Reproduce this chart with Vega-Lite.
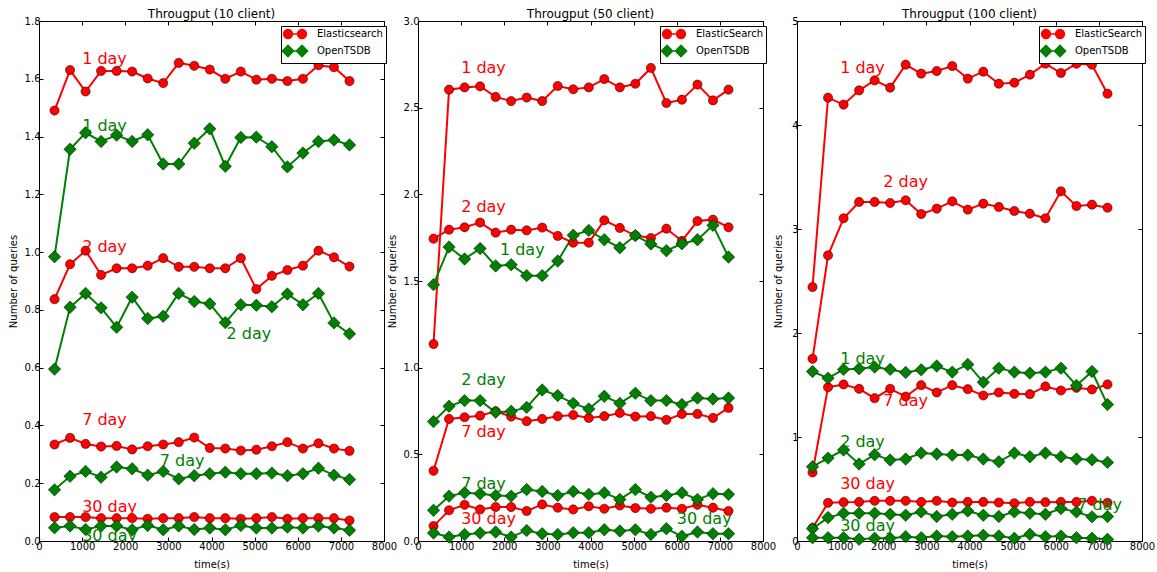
{
"$schema": "https://vega.github.io/schema/vega-lite/v6.json",
"background": "white",
"padding": {"left": 7, "top": 7, "right": 5, "bottom": 5},
"config": {
 "font": "DejaVu Sans",
 "view": {"stroke": "#000", "strokeWidth": 1},
 "axis": {"grid": false, "domainColor": "#000", "tickColor": "#000", "labelColor": "#000", "titleColor": "#000", "labelFontSize": 10, "titleFontSize": 10, "titleFontWeight": "normal", "domainWidth": 1, "tickWidth": 1, "minExtent": 0},
 "title": {"fontSize": 12, "fontWeight": "normal", "color": "#000", "offset": -5, "frame": "group"},
 "legend": {"orient": "none", "legendX": 242, "legendY": 5, "direction": "vertical", "fillColor": "#fff", "strokeColor": "#000", "padding": 3, "labelFontSize": 10, "labelColor": "#000", "symbolSize": 64, "symbolOffset": 6, "labelOffset": 17, "rowPadding": 0, "cornerRadius": 0, "symbolStrokeWidth": 1.5}
},
"datasets": {
"pts": [
{"p":10,"db":"Elasticsearch","s":"1 day","t":360,"v":1.490},{"p":10,"db":"Elasticsearch","s":"1 day","t":720,"v":1.630},{"p":10,"db":"Elasticsearch","s":"1 day","t":1080,"v":1.556},{"p":10,"db":"Elasticsearch","s":"1 day","t":1440,"v":1.627},{"p":10,"db":"Elasticsearch","s":"1 day","t":1800,"v":1.627},{"p":10,"db":"Elasticsearch","s":"1 day","t":2160,"v":1.625},{"p":10,"db":"Elasticsearch","s":"1 day","t":2520,"v":1.601},{"p":10,"db":"Elasticsearch","s":"1 day","t":2880,"v":1.585},{"p":10,"db":"Elasticsearch","s":"1 day","t":3240,"v":1.655},{"p":10,"db":"Elasticsearch","s":"1 day","t":3600,"v":1.645},{"p":10,"db":"Elasticsearch","s":"1 day","t":3960,"v":1.632},{"p":10,"db":"Elasticsearch","s":"1 day","t":4320,"v":1.600},{"p":10,"db":"Elasticsearch","s":"1 day","t":4680,"v":1.625},{"p":10,"db":"Elasticsearch","s":"1 day","t":5040,"v":1.597},{"p":10,"db":"Elasticsearch","s":"1 day","t":5400,"v":1.600},{"p":10,"db":"Elasticsearch","s":"1 day","t":5760,"v":1.592},{"p":10,"db":"Elasticsearch","s":"1 day","t":6120,"v":1.600},{"p":10,"db":"Elasticsearch","s":"1 day","t":6480,"v":1.647},{"p":10,"db":"Elasticsearch","s":"1 day","t":6840,"v":1.640},{"p":10,"db":"Elasticsearch","s":"1 day","t":7200,"v":1.592},
{"p":10,"db":"Elasticsearch","s":"2 day","t":360,"v":0.837},{"p":10,"db":"Elasticsearch","s":"2 day","t":720,"v":0.958},{"p":10,"db":"Elasticsearch","s":"2 day","t":1080,"v":1.005},{"p":10,"db":"Elasticsearch","s":"2 day","t":1440,"v":0.921},{"p":10,"db":"Elasticsearch","s":"2 day","t":1800,"v":0.944},{"p":10,"db":"Elasticsearch","s":"2 day","t":2160,"v":0.944},{"p":10,"db":"Elasticsearch","s":"2 day","t":2520,"v":0.953},{"p":10,"db":"Elasticsearch","s":"2 day","t":2880,"v":0.979},{"p":10,"db":"Elasticsearch","s":"2 day","t":3240,"v":0.949},{"p":10,"db":"Elasticsearch","s":"2 day","t":3600,"v":0.949},{"p":10,"db":"Elasticsearch","s":"2 day","t":3960,"v":0.944},{"p":10,"db":"Elasticsearch","s":"2 day","t":4320,"v":0.944},{"p":10,"db":"Elasticsearch","s":"2 day","t":4680,"v":0.979},{"p":10,"db":"Elasticsearch","s":"2 day","t":5040,"v":0.872},{"p":10,"db":"Elasticsearch","s":"2 day","t":5400,"v":0.918},{"p":10,"db":"Elasticsearch","s":"2 day","t":5760,"v":0.938},{"p":10,"db":"Elasticsearch","s":"2 day","t":6120,"v":0.953},{"p":10,"db":"Elasticsearch","s":"2 day","t":6480,"v":1.005},{"p":10,"db":"Elasticsearch","s":"2 day","t":6840,"v":0.982},{"p":10,"db":"Elasticsearch","s":"2 day","t":7200,"v":0.950},
{"p":10,"db":"Elasticsearch","s":"7 day","t":360,"v":0.334},{"p":10,"db":"Elasticsearch","s":"7 day","t":720,"v":0.357},{"p":10,"db":"Elasticsearch","s":"7 day","t":1080,"v":0.336},{"p":10,"db":"Elasticsearch","s":"7 day","t":1440,"v":0.327},{"p":10,"db":"Elasticsearch","s":"7 day","t":1800,"v":0.329},{"p":10,"db":"Elasticsearch","s":"7 day","t":2160,"v":0.317},{"p":10,"db":"Elasticsearch","s":"7 day","t":2520,"v":0.328},{"p":10,"db":"Elasticsearch","s":"7 day","t":2880,"v":0.334},{"p":10,"db":"Elasticsearch","s":"7 day","t":3240,"v":0.342},{"p":10,"db":"Elasticsearch","s":"7 day","t":3600,"v":0.358},{"p":10,"db":"Elasticsearch","s":"7 day","t":3960,"v":0.322},{"p":10,"db":"Elasticsearch","s":"7 day","t":4320,"v":0.320},{"p":10,"db":"Elasticsearch","s":"7 day","t":4680,"v":0.313},{"p":10,"db":"Elasticsearch","s":"7 day","t":5040,"v":0.316},{"p":10,"db":"Elasticsearch","s":"7 day","t":5400,"v":0.328},{"p":10,"db":"Elasticsearch","s":"7 day","t":5760,"v":0.342},{"p":10,"db":"Elasticsearch","s":"7 day","t":6120,"v":0.320},{"p":10,"db":"Elasticsearch","s":"7 day","t":6480,"v":0.338},{"p":10,"db":"Elasticsearch","s":"7 day","t":6840,"v":0.320},{"p":10,"db":"Elasticsearch","s":"7 day","t":7200,"v":0.312},
{"p":10,"db":"Elasticsearch","s":"30 day","t":360,"v":0.083},{"p":10,"db":"Elasticsearch","s":"30 day","t":720,"v":0.083},{"p":10,"db":"Elasticsearch","s":"30 day","t":1080,"v":0.083},{"p":10,"db":"Elasticsearch","s":"30 day","t":1440,"v":0.079},{"p":10,"db":"Elasticsearch","s":"30 day","t":1800,"v":0.079},{"p":10,"db":"Elasticsearch","s":"30 day","t":2160,"v":0.079},{"p":10,"db":"Elasticsearch","s":"30 day","t":2520,"v":0.077},{"p":10,"db":"Elasticsearch","s":"30 day","t":2880,"v":0.079},{"p":10,"db":"Elasticsearch","s":"30 day","t":3240,"v":0.079},{"p":10,"db":"Elasticsearch","s":"30 day","t":3600,"v":0.083},{"p":10,"db":"Elasticsearch","s":"30 day","t":3960,"v":0.079},{"p":10,"db":"Elasticsearch","s":"30 day","t":4320,"v":0.079},{"p":10,"db":"Elasticsearch","s":"30 day","t":4680,"v":0.077},{"p":10,"db":"Elasticsearch","s":"30 day","t":5040,"v":0.079},{"p":10,"db":"Elasticsearch","s":"30 day","t":5400,"v":0.083},{"p":10,"db":"Elasticsearch","s":"30 day","t":5760,"v":0.077},{"p":10,"db":"Elasticsearch","s":"30 day","t":6120,"v":0.079},{"p":10,"db":"Elasticsearch","s":"30 day","t":6480,"v":0.079},{"p":10,"db":"Elasticsearch","s":"30 day","t":6840,"v":0.079},{"p":10,"db":"Elasticsearch","s":"30 day","t":7200,"v":0.071},
{"p":10,"db":"OpenTSDB","s":"1 day","t":360,"v":0.984},{"p":10,"db":"OpenTSDB","s":"1 day","t":720,"v":1.356},{"p":10,"db":"OpenTSDB","s":"1 day","t":1080,"v":1.413},{"p":10,"db":"OpenTSDB","s":"1 day","t":1440,"v":1.383},{"p":10,"db":"OpenTSDB","s":"1 day","t":1800,"v":1.405},{"p":10,"db":"OpenTSDB","s":"1 day","t":2160,"v":1.383},{"p":10,"db":"OpenTSDB","s":"1 day","t":2520,"v":1.406},{"p":10,"db":"OpenTSDB","s":"1 day","t":2880,"v":1.305},{"p":10,"db":"OpenTSDB","s":"1 day","t":3240,"v":1.305},{"p":10,"db":"OpenTSDB","s":"1 day","t":3600,"v":1.377},{"p":10,"db":"OpenTSDB","s":"1 day","t":3960,"v":1.427},{"p":10,"db":"OpenTSDB","s":"1 day","t":4320,"v":1.297},{"p":10,"db":"OpenTSDB","s":"1 day","t":4680,"v":1.397},{"p":10,"db":"OpenTSDB","s":"1 day","t":5040,"v":1.398},{"p":10,"db":"OpenTSDB","s":"1 day","t":5400,"v":1.365},{"p":10,"db":"OpenTSDB","s":"1 day","t":5760,"v":1.295},{"p":10,"db":"OpenTSDB","s":"1 day","t":6120,"v":1.343},{"p":10,"db":"OpenTSDB","s":"1 day","t":6480,"v":1.383},{"p":10,"db":"OpenTSDB","s":"1 day","t":6840,"v":1.388},{"p":10,"db":"OpenTSDB","s":"1 day","t":7200,"v":1.371},
{"p":10,"db":"OpenTSDB","s":"2 day","t":360,"v":0.595},{"p":10,"db":"OpenTSDB","s":"2 day","t":720,"v":0.809},{"p":10,"db":"OpenTSDB","s":"2 day","t":1080,"v":0.857},{"p":10,"db":"OpenTSDB","s":"2 day","t":1440,"v":0.807},{"p":10,"db":"OpenTSDB","s":"2 day","t":1800,"v":0.740},{"p":10,"db":"OpenTSDB","s":"2 day","t":2160,"v":0.844},{"p":10,"db":"OpenTSDB","s":"2 day","t":2520,"v":0.770},{"p":10,"db":"OpenTSDB","s":"2 day","t":2880,"v":0.778},{"p":10,"db":"OpenTSDB","s":"2 day","t":3240,"v":0.857},{"p":10,"db":"OpenTSDB","s":"2 day","t":3600,"v":0.829},{"p":10,"db":"OpenTSDB","s":"2 day","t":3960,"v":0.821},{"p":10,"db":"OpenTSDB","s":"2 day","t":4320,"v":0.756},{"p":10,"db":"OpenTSDB","s":"2 day","t":4680,"v":0.818},{"p":10,"db":"OpenTSDB","s":"2 day","t":5040,"v":0.816},{"p":10,"db":"OpenTSDB","s":"2 day","t":5400,"v":0.811},{"p":10,"db":"OpenTSDB","s":"2 day","t":5760,"v":0.855},{"p":10,"db":"OpenTSDB","s":"2 day","t":6120,"v":0.818},{"p":10,"db":"OpenTSDB","s":"2 day","t":6480,"v":0.857},{"p":10,"db":"OpenTSDB","s":"2 day","t":6840,"v":0.755},{"p":10,"db":"OpenTSDB","s":"2 day","t":7200,"v":0.717},
{"p":10,"db":"OpenTSDB","s":"7 day","t":360,"v":0.177},{"p":10,"db":"OpenTSDB","s":"7 day","t":720,"v":0.224},{"p":10,"db":"OpenTSDB","s":"7 day","t":1080,"v":0.241},{"p":10,"db":"OpenTSDB","s":"7 day","t":1440,"v":0.221},{"p":10,"db":"OpenTSDB","s":"7 day","t":1800,"v":0.256},{"p":10,"db":"OpenTSDB","s":"7 day","t":2160,"v":0.250},{"p":10,"db":"OpenTSDB","s":"7 day","t":2520,"v":0.228},{"p":10,"db":"OpenTSDB","s":"7 day","t":2880,"v":0.241},{"p":10,"db":"OpenTSDB","s":"7 day","t":3240,"v":0.215},{"p":10,"db":"OpenTSDB","s":"7 day","t":3600,"v":0.226},{"p":10,"db":"OpenTSDB","s":"7 day","t":3960,"v":0.233},{"p":10,"db":"OpenTSDB","s":"7 day","t":4320,"v":0.238},{"p":10,"db":"OpenTSDB","s":"7 day","t":4680,"v":0.233},{"p":10,"db":"OpenTSDB","s":"7 day","t":5040,"v":0.233},{"p":10,"db":"OpenTSDB","s":"7 day","t":5400,"v":0.235},{"p":10,"db":"OpenTSDB","s":"7 day","t":5760,"v":0.226},{"p":10,"db":"OpenTSDB","s":"7 day","t":6120,"v":0.233},{"p":10,"db":"OpenTSDB","s":"7 day","t":6480,"v":0.252},{"p":10,"db":"OpenTSDB","s":"7 day","t":6840,"v":0.228},{"p":10,"db":"OpenTSDB","s":"7 day","t":7200,"v":0.213},
{"p":10,"db":"OpenTSDB","s":"30 day","t":360,"v":0.046},{"p":10,"db":"OpenTSDB","s":"30 day","t":720,"v":0.052},{"p":10,"db":"OpenTSDB","s":"30 day","t":1080,"v":0.040},{"p":10,"db":"OpenTSDB","s":"30 day","t":1440,"v":0.052},{"p":10,"db":"OpenTSDB","s":"30 day","t":1800,"v":0.052},{"p":10,"db":"OpenTSDB","s":"30 day","t":2160,"v":0.039},{"p":10,"db":"OpenTSDB","s":"30 day","t":2520,"v":0.054},{"p":10,"db":"OpenTSDB","s":"30 day","t":2880,"v":0.039},{"p":10,"db":"OpenTSDB","s":"30 day","t":3240,"v":0.052},{"p":10,"db":"OpenTSDB","s":"30 day","t":3600,"v":0.040},{"p":10,"db":"OpenTSDB","s":"30 day","t":3960,"v":0.045},{"p":10,"db":"OpenTSDB","s":"30 day","t":4320,"v":0.039},{"p":10,"db":"OpenTSDB","s":"30 day","t":4680,"v":0.054},{"p":10,"db":"OpenTSDB","s":"30 day","t":5040,"v":0.045},{"p":10,"db":"OpenTSDB","s":"30 day","t":5400,"v":0.045},{"p":10,"db":"OpenTSDB","s":"30 day","t":5760,"v":0.048},{"p":10,"db":"OpenTSDB","s":"30 day","t":6120,"v":0.045},{"p":10,"db":"OpenTSDB","s":"30 day","t":6480,"v":0.052},{"p":10,"db":"OpenTSDB","s":"30 day","t":6840,"v":0.045},{"p":10,"db":"OpenTSDB","s":"30 day","t":7200,"v":0.037},
{"p":50,"db":"ElasticSearch","s":"1 day","t":360,"v":1.136},{"p":50,"db":"ElasticSearch","s":"1 day","t":720,"v":2.604},{"p":50,"db":"ElasticSearch","s":"1 day","t":1080,"v":2.617},{"p":50,"db":"ElasticSearch","s":"1 day","t":1440,"v":2.623},{"p":50,"db":"ElasticSearch","s":"1 day","t":1800,"v":2.562},{"p":50,"db":"ElasticSearch","s":"1 day","t":2160,"v":2.538},{"p":50,"db":"ElasticSearch","s":"1 day","t":2520,"v":2.558},{"p":50,"db":"ElasticSearch","s":"1 day","t":2880,"v":2.538},{"p":50,"db":"ElasticSearch","s":"1 day","t":3240,"v":2.625},{"p":50,"db":"ElasticSearch","s":"1 day","t":3600,"v":2.606},{"p":50,"db":"ElasticSearch","s":"1 day","t":3960,"v":2.617},{"p":50,"db":"ElasticSearch","s":"1 day","t":4320,"v":2.665},{"p":50,"db":"ElasticSearch","s":"1 day","t":4680,"v":2.617},{"p":50,"db":"ElasticSearch","s":"1 day","t":5040,"v":2.638},{"p":50,"db":"ElasticSearch","s":"1 day","t":5400,"v":2.729},{"p":50,"db":"ElasticSearch","s":"1 day","t":5760,"v":2.527},{"p":50,"db":"ElasticSearch","s":"1 day","t":6120,"v":2.546},{"p":50,"db":"ElasticSearch","s":"1 day","t":6480,"v":2.633},{"p":50,"db":"ElasticSearch","s":"1 day","t":6840,"v":2.542},{"p":50,"db":"ElasticSearch","s":"1 day","t":7200,"v":2.604},
{"p":50,"db":"ElasticSearch","s":"2 day","t":360,"v":1.744},{"p":50,"db":"ElasticSearch","s":"2 day","t":720,"v":1.796},{"p":50,"db":"ElasticSearch","s":"2 day","t":1080,"v":1.810},{"p":50,"db":"ElasticSearch","s":"2 day","t":1440,"v":1.837},{"p":50,"db":"ElasticSearch","s":"2 day","t":1800,"v":1.779},{"p":50,"db":"ElasticSearch","s":"2 day","t":2160,"v":1.796},{"p":50,"db":"ElasticSearch","s":"2 day","t":2520,"v":1.792},{"p":50,"db":"ElasticSearch","s":"2 day","t":2880,"v":1.808},{"p":50,"db":"ElasticSearch","s":"2 day","t":3240,"v":1.760},{"p":50,"db":"ElasticSearch","s":"2 day","t":3600,"v":1.721},{"p":50,"db":"ElasticSearch","s":"2 day","t":3960,"v":1.721},{"p":50,"db":"ElasticSearch","s":"2 day","t":4320,"v":1.850},{"p":50,"db":"ElasticSearch","s":"2 day","t":4680,"v":1.806},{"p":50,"db":"ElasticSearch","s":"2 day","t":5040,"v":1.762},{"p":50,"db":"ElasticSearch","s":"2 day","t":5400,"v":1.748},{"p":50,"db":"ElasticSearch","s":"2 day","t":5760,"v":1.802},{"p":50,"db":"ElasticSearch","s":"2 day","t":6120,"v":1.731},{"p":50,"db":"ElasticSearch","s":"2 day","t":6480,"v":1.846},{"p":50,"db":"ElasticSearch","s":"2 day","t":6840,"v":1.854},{"p":50,"db":"ElasticSearch","s":"2 day","t":7200,"v":1.810},
{"p":50,"db":"ElasticSearch","s":"7 day","t":360,"v":0.405},{"p":50,"db":"ElasticSearch","s":"7 day","t":720,"v":0.704},{"p":50,"db":"ElasticSearch","s":"7 day","t":1080,"v":0.714},{"p":50,"db":"ElasticSearch","s":"7 day","t":1440,"v":0.723},{"p":50,"db":"ElasticSearch","s":"7 day","t":1800,"v":0.748},{"p":50,"db":"ElasticSearch","s":"7 day","t":2160,"v":0.718},{"p":50,"db":"ElasticSearch","s":"7 day","t":2520,"v":0.691},{"p":50,"db":"ElasticSearch","s":"7 day","t":2880,"v":0.704},{"p":50,"db":"ElasticSearch","s":"7 day","t":3240,"v":0.720},{"p":50,"db":"ElasticSearch","s":"7 day","t":3600,"v":0.727},{"p":50,"db":"ElasticSearch","s":"7 day","t":3960,"v":0.710},{"p":50,"db":"ElasticSearch","s":"7 day","t":4320,"v":0.720},{"p":50,"db":"ElasticSearch","s":"7 day","t":4680,"v":0.739},{"p":50,"db":"ElasticSearch","s":"7 day","t":5040,"v":0.718},{"p":50,"db":"ElasticSearch","s":"7 day","t":5400,"v":0.720},{"p":50,"db":"ElasticSearch","s":"7 day","t":5760,"v":0.699},{"p":50,"db":"ElasticSearch","s":"7 day","t":6120,"v":0.733},{"p":50,"db":"ElasticSearch","s":"7 day","t":6480,"v":0.733},{"p":50,"db":"ElasticSearch","s":"7 day","t":6840,"v":0.710},{"p":50,"db":"ElasticSearch","s":"7 day","t":7200,"v":0.768},
{"p":50,"db":"ElasticSearch","s":"30 day","t":360,"v":0.086},{"p":50,"db":"ElasticSearch","s":"30 day","t":720,"v":0.177},{"p":50,"db":"ElasticSearch","s":"30 day","t":1080,"v":0.209},{"p":50,"db":"ElasticSearch","s":"30 day","t":1440,"v":0.182},{"p":50,"db":"ElasticSearch","s":"30 day","t":1800,"v":0.196},{"p":50,"db":"ElasticSearch","s":"30 day","t":2160,"v":0.196},{"p":50,"db":"ElasticSearch","s":"30 day","t":2520,"v":0.173},{"p":50,"db":"ElasticSearch","s":"30 day","t":2880,"v":0.211},{"p":50,"db":"ElasticSearch","s":"30 day","t":3240,"v":0.192},{"p":50,"db":"ElasticSearch","s":"30 day","t":3600,"v":0.182},{"p":50,"db":"ElasticSearch","s":"30 day","t":3960,"v":0.200},{"p":50,"db":"ElasticSearch","s":"30 day","t":4320,"v":0.186},{"p":50,"db":"ElasticSearch","s":"30 day","t":4680,"v":0.205},{"p":50,"db":"ElasticSearch","s":"30 day","t":5040,"v":0.190},{"p":50,"db":"ElasticSearch","s":"30 day","t":5400,"v":0.186},{"p":50,"db":"ElasticSearch","s":"30 day","t":5760,"v":0.192},{"p":50,"db":"ElasticSearch","s":"30 day","t":6120,"v":0.186},{"p":50,"db":"ElasticSearch","s":"30 day","t":6480,"v":0.209},{"p":50,"db":"ElasticSearch","s":"30 day","t":6840,"v":0.192},{"p":50,"db":"ElasticSearch","s":"30 day","t":7200,"v":0.173},
{"p":50,"db":"OpenTSDB","s":"1 day","t":360,"v":1.479},{"p":50,"db":"OpenTSDB","s":"1 day","t":720,"v":1.696},{"p":50,"db":"OpenTSDB","s":"1 day","t":1080,"v":1.627},{"p":50,"db":"OpenTSDB","s":"1 day","t":1440,"v":1.687},{"p":50,"db":"OpenTSDB","s":"1 day","t":1800,"v":1.587},{"p":50,"db":"OpenTSDB","s":"1 day","t":2160,"v":1.594},{"p":50,"db":"OpenTSDB","s":"1 day","t":2520,"v":1.531},{"p":50,"db":"OpenTSDB","s":"1 day","t":2880,"v":1.531},{"p":50,"db":"OpenTSDB","s":"1 day","t":3240,"v":1.615},{"p":50,"db":"OpenTSDB","s":"1 day","t":3600,"v":1.764},{"p":50,"db":"OpenTSDB","s":"1 day","t":3960,"v":1.792},{"p":50,"db":"OpenTSDB","s":"1 day","t":4320,"v":1.738},{"p":50,"db":"OpenTSDB","s":"1 day","t":4680,"v":1.692},{"p":50,"db":"OpenTSDB","s":"1 day","t":5040,"v":1.762},{"p":50,"db":"OpenTSDB","s":"1 day","t":5400,"v":1.714},{"p":50,"db":"OpenTSDB","s":"1 day","t":5760,"v":1.675},{"p":50,"db":"OpenTSDB","s":"1 day","t":6120,"v":1.715},{"p":50,"db":"OpenTSDB","s":"1 day","t":6480,"v":1.738},{"p":50,"db":"OpenTSDB","s":"1 day","t":6840,"v":1.821},{"p":50,"db":"OpenTSDB","s":"1 day","t":7200,"v":1.638},
{"p":50,"db":"OpenTSDB","s":"2 day","t":360,"v":0.689},{"p":50,"db":"OpenTSDB","s":"2 day","t":720,"v":0.777},{"p":50,"db":"OpenTSDB","s":"2 day","t":1080,"v":0.810},{"p":50,"db":"OpenTSDB","s":"2 day","t":1440,"v":0.810},{"p":50,"db":"OpenTSDB","s":"2 day","t":1800,"v":0.743},{"p":50,"db":"OpenTSDB","s":"2 day","t":2160,"v":0.748},{"p":50,"db":"OpenTSDB","s":"2 day","t":2520,"v":0.771},{"p":50,"db":"OpenTSDB","s":"2 day","t":2880,"v":0.871},{"p":50,"db":"OpenTSDB","s":"2 day","t":3240,"v":0.839},{"p":50,"db":"OpenTSDB","s":"2 day","t":3600,"v":0.794},{"p":50,"db":"OpenTSDB","s":"2 day","t":3960,"v":0.762},{"p":50,"db":"OpenTSDB","s":"2 day","t":4320,"v":0.835},{"p":50,"db":"OpenTSDB","s":"2 day","t":4680,"v":0.794},{"p":50,"db":"OpenTSDB","s":"2 day","t":5040,"v":0.852},{"p":50,"db":"OpenTSDB","s":"2 day","t":5400,"v":0.810},{"p":50,"db":"OpenTSDB","s":"2 day","t":5760,"v":0.810},{"p":50,"db":"OpenTSDB","s":"2 day","t":6120,"v":0.787},{"p":50,"db":"OpenTSDB","s":"2 day","t":6480,"v":0.825},{"p":50,"db":"OpenTSDB","s":"2 day","t":6840,"v":0.819},{"p":50,"db":"OpenTSDB","s":"2 day","t":7200,"v":0.825},
{"p":50,"db":"OpenTSDB","s":"7 day","t":360,"v":0.177},{"p":50,"db":"OpenTSDB","s":"7 day","t":720,"v":0.259},{"p":50,"db":"OpenTSDB","s":"7 day","t":1080,"v":0.278},{"p":50,"db":"OpenTSDB","s":"7 day","t":1440,"v":0.273},{"p":50,"db":"OpenTSDB","s":"7 day","t":1800,"v":0.263},{"p":50,"db":"OpenTSDB","s":"7 day","t":2160,"v":0.259},{"p":50,"db":"OpenTSDB","s":"7 day","t":2520,"v":0.297},{"p":50,"db":"OpenTSDB","s":"7 day","t":2880,"v":0.286},{"p":50,"db":"OpenTSDB","s":"7 day","t":3240,"v":0.263},{"p":50,"db":"OpenTSDB","s":"7 day","t":3600,"v":0.286},{"p":50,"db":"OpenTSDB","s":"7 day","t":3960,"v":0.269},{"p":50,"db":"OpenTSDB","s":"7 day","t":4320,"v":0.278},{"p":50,"db":"OpenTSDB","s":"7 day","t":4680,"v":0.240},{"p":50,"db":"OpenTSDB","s":"7 day","t":5040,"v":0.297},{"p":50,"db":"OpenTSDB","s":"7 day","t":5400,"v":0.253},{"p":50,"db":"OpenTSDB","s":"7 day","t":5760,"v":0.263},{"p":50,"db":"OpenTSDB","s":"7 day","t":6120,"v":0.278},{"p":50,"db":"OpenTSDB","s":"7 day","t":6480,"v":0.240},{"p":50,"db":"OpenTSDB","s":"7 day","t":6840,"v":0.273},{"p":50,"db":"OpenTSDB","s":"7 day","t":7200,"v":0.269},
{"p":50,"db":"OpenTSDB","s":"30 day","t":360,"v":0.046},{"p":50,"db":"OpenTSDB","s":"30 day","t":720,"v":0.023},{"p":50,"db":"OpenTSDB","s":"30 day","t":1080,"v":0.038},{"p":50,"db":"OpenTSDB","s":"30 day","t":1440,"v":0.046},{"p":50,"db":"OpenTSDB","s":"30 day","t":1800,"v":0.052},{"p":50,"db":"OpenTSDB","s":"30 day","t":2160,"v":0.023},{"p":50,"db":"OpenTSDB","s":"30 day","t":2520,"v":0.061},{"p":50,"db":"OpenTSDB","s":"30 day","t":2880,"v":0.042},{"p":50,"db":"OpenTSDB","s":"30 day","t":3240,"v":0.038},{"p":50,"db":"OpenTSDB","s":"30 day","t":3600,"v":0.048},{"p":50,"db":"OpenTSDB","s":"30 day","t":3960,"v":0.048},{"p":50,"db":"OpenTSDB","s":"30 day","t":4320,"v":0.065},{"p":50,"db":"OpenTSDB","s":"30 day","t":4680,"v":0.058},{"p":50,"db":"OpenTSDB","s":"30 day","t":5040,"v":0.065},{"p":50,"db":"OpenTSDB","s":"30 day","t":5400,"v":0.038},{"p":50,"db":"OpenTSDB","s":"30 day","t":5760,"v":0.071},{"p":50,"db":"OpenTSDB","s":"30 day","t":6120,"v":0.027},{"p":50,"db":"OpenTSDB","s":"30 day","t":6480,"v":0.052},{"p":50,"db":"OpenTSDB","s":"30 day","t":6840,"v":0.042},{"p":50,"db":"OpenTSDB","s":"30 day","t":7200,"v":0.042},
{"p":100,"db":"ElasticSearch","s":"1 day","t":360,"v":2.442},{"p":100,"db":"ElasticSearch","s":"1 day","t":720,"v":4.263},{"p":100,"db":"ElasticSearch","s":"1 day","t":1080,"v":4.196},{"p":100,"db":"ElasticSearch","s":"1 day","t":1440,"v":4.333},{"p":100,"db":"ElasticSearch","s":"1 day","t":1800,"v":4.429},{"p":100,"db":"ElasticSearch","s":"1 day","t":2160,"v":4.359},{"p":100,"db":"ElasticSearch","s":"1 day","t":2520,"v":4.580},{"p":100,"db":"ElasticSearch","s":"1 day","t":2880,"v":4.494},{"p":100,"db":"ElasticSearch","s":"1 day","t":3240,"v":4.519},{"p":100,"db":"ElasticSearch","s":"1 day","t":3600,"v":4.567},{"p":100,"db":"ElasticSearch","s":"1 day","t":3960,"v":4.446},{"p":100,"db":"ElasticSearch","s":"1 day","t":4320,"v":4.513},{"p":100,"db":"ElasticSearch","s":"1 day","t":4680,"v":4.397},{"p":100,"db":"ElasticSearch","s":"1 day","t":5040,"v":4.407},{"p":100,"db":"ElasticSearch","s":"1 day","t":5400,"v":4.484},{"p":100,"db":"ElasticSearch","s":"1 day","t":5760,"v":4.590},{"p":100,"db":"ElasticSearch","s":"1 day","t":6120,"v":4.500},{"p":100,"db":"ElasticSearch","s":"1 day","t":6480,"v":4.590},{"p":100,"db":"ElasticSearch","s":"1 day","t":6840,"v":4.580},{"p":100,"db":"ElasticSearch","s":"1 day","t":7200,"v":4.301},
{"p":100,"db":"ElasticSearch","s":"2 day","t":360,"v":1.752},{"p":100,"db":"ElasticSearch","s":"2 day","t":720,"v":2.747},{"p":100,"db":"ElasticSearch","s":"2 day","t":1080,"v":3.103},{"p":100,"db":"ElasticSearch","s":"2 day","t":1440,"v":3.260},{"p":100,"db":"ElasticSearch","s":"2 day","t":1800,"v":3.260},{"p":100,"db":"ElasticSearch","s":"2 day","t":2160,"v":3.250},{"p":100,"db":"ElasticSearch","s":"2 day","t":2520,"v":3.276},{"p":100,"db":"ElasticSearch","s":"2 day","t":2880,"v":3.144},{"p":100,"db":"ElasticSearch","s":"2 day","t":3240,"v":3.196},{"p":100,"db":"ElasticSearch","s":"2 day","t":3600,"v":3.266},{"p":100,"db":"ElasticSearch","s":"2 day","t":3960,"v":3.186},{"p":100,"db":"ElasticSearch","s":"2 day","t":4320,"v":3.244},{"p":100,"db":"ElasticSearch","s":"2 day","t":4680,"v":3.212},{"p":100,"db":"ElasticSearch","s":"2 day","t":5040,"v":3.173},{"p":100,"db":"ElasticSearch","s":"2 day","t":5400,"v":3.147},{"p":100,"db":"ElasticSearch","s":"2 day","t":5760,"v":3.103},{"p":100,"db":"ElasticSearch","s":"2 day","t":6120,"v":3.362},{"p":100,"db":"ElasticSearch","s":"2 day","t":6480,"v":3.221},{"p":100,"db":"ElasticSearch","s":"2 day","t":6840,"v":3.234},{"p":100,"db":"ElasticSearch","s":"2 day","t":7200,"v":3.205},
{"p":100,"db":"ElasticSearch","s":"7 day","t":360,"v":0.659},{"p":100,"db":"ElasticSearch","s":"7 day","t":720,"v":1.479},{"p":100,"db":"ElasticSearch","s":"7 day","t":1080,"v":1.505},{"p":100,"db":"ElasticSearch","s":"7 day","t":1440,"v":1.463},{"p":100,"db":"ElasticSearch","s":"7 day","t":1800,"v":1.373},{"p":100,"db":"ElasticSearch","s":"7 day","t":2160,"v":1.463},{"p":100,"db":"ElasticSearch","s":"7 day","t":2520,"v":1.389},{"p":100,"db":"ElasticSearch","s":"7 day","t":2880,"v":1.498},{"p":100,"db":"ElasticSearch","s":"7 day","t":3240,"v":1.428},{"p":100,"db":"ElasticSearch","s":"7 day","t":3600,"v":1.498},{"p":100,"db":"ElasticSearch","s":"7 day","t":3960,"v":1.460},{"p":100,"db":"ElasticSearch","s":"7 day","t":4320,"v":1.399},{"p":100,"db":"ElasticSearch","s":"7 day","t":4680,"v":1.428},{"p":100,"db":"ElasticSearch","s":"7 day","t":5040,"v":1.415},{"p":100,"db":"ElasticSearch","s":"7 day","t":5400,"v":1.412},{"p":100,"db":"ElasticSearch","s":"7 day","t":5760,"v":1.486},{"p":100,"db":"ElasticSearch","s":"7 day","t":6120,"v":1.447},{"p":100,"db":"ElasticSearch","s":"7 day","t":6480,"v":1.473},{"p":100,"db":"ElasticSearch","s":"7 day","t":6840,"v":1.457},{"p":100,"db":"ElasticSearch","s":"7 day","t":7200,"v":1.505},
{"p":100,"db":"ElasticSearch","s":"30 day","t":360,"v":0.125},{"p":100,"db":"ElasticSearch","s":"30 day","t":720,"v":0.367},{"p":100,"db":"ElasticSearch","s":"30 day","t":1080,"v":0.373},{"p":100,"db":"ElasticSearch","s":"30 day","t":1440,"v":0.376},{"p":100,"db":"ElasticSearch","s":"30 day","t":1800,"v":0.386},{"p":100,"db":"ElasticSearch","s":"30 day","t":2160,"v":0.386},{"p":100,"db":"ElasticSearch","s":"30 day","t":2520,"v":0.386},{"p":100,"db":"ElasticSearch","s":"30 day","t":2880,"v":0.376},{"p":100,"db":"ElasticSearch","s":"30 day","t":3240,"v":0.386},{"p":100,"db":"ElasticSearch","s":"30 day","t":3600,"v":0.370},{"p":100,"db":"ElasticSearch","s":"30 day","t":3960,"v":0.376},{"p":100,"db":"ElasticSearch","s":"30 day","t":4320,"v":0.376},{"p":100,"db":"ElasticSearch","s":"30 day","t":4680,"v":0.370},{"p":100,"db":"ElasticSearch","s":"30 day","t":5040,"v":0.363},{"p":100,"db":"ElasticSearch","s":"30 day","t":5400,"v":0.376},{"p":100,"db":"ElasticSearch","s":"30 day","t":5760,"v":0.373},{"p":100,"db":"ElasticSearch","s":"30 day","t":6120,"v":0.376},{"p":100,"db":"ElasticSearch","s":"30 day","t":6480,"v":0.376},{"p":100,"db":"ElasticSearch","s":"30 day","t":6840,"v":0.386},{"p":100,"db":"ElasticSearch","s":"30 day","t":7200,"v":0.367},
{"p":100,"db":"OpenTSDB","s":"1 day","t":360,"v":1.630},{"p":100,"db":"OpenTSDB","s":"1 day","t":720,"v":1.566},{"p":100,"db":"OpenTSDB","s":"1 day","t":1080,"v":1.650},{"p":100,"db":"OpenTSDB","s":"1 day","t":1440,"v":1.656},{"p":100,"db":"OpenTSDB","s":"1 day","t":1800,"v":1.672},{"p":100,"db":"OpenTSDB","s":"1 day","t":2160,"v":1.650},{"p":100,"db":"OpenTSDB","s":"1 day","t":2520,"v":1.621},{"p":100,"db":"OpenTSDB","s":"1 day","t":2880,"v":1.646},{"p":100,"db":"OpenTSDB","s":"1 day","t":3240,"v":1.682},{"p":100,"db":"OpenTSDB","s":"1 day","t":3600,"v":1.624},{"p":100,"db":"OpenTSDB","s":"1 day","t":3960,"v":1.698},{"p":100,"db":"OpenTSDB","s":"1 day","t":4320,"v":1.527},{"p":100,"db":"OpenTSDB","s":"1 day","t":4680,"v":1.662},{"p":100,"db":"OpenTSDB","s":"1 day","t":5040,"v":1.624},{"p":100,"db":"OpenTSDB","s":"1 day","t":5400,"v":1.614},{"p":100,"db":"OpenTSDB","s":"1 day","t":5760,"v":1.624},{"p":100,"db":"OpenTSDB","s":"1 day","t":6120,"v":1.662},{"p":100,"db":"OpenTSDB","s":"1 day","t":6480,"v":1.495},{"p":100,"db":"OpenTSDB","s":"1 day","t":6840,"v":1.630},{"p":100,"db":"OpenTSDB","s":"1 day","t":7200,"v":1.312},
{"p":100,"db":"OpenTSDB","s":"2 day","t":360,"v":0.714},{"p":100,"db":"OpenTSDB","s":"2 day","t":720,"v":0.797},{"p":100,"db":"OpenTSDB","s":"2 day","t":1080,"v":0.875},{"p":100,"db":"OpenTSDB","s":"2 day","t":1440,"v":0.740},{"p":100,"db":"OpenTSDB","s":"2 day","t":1800,"v":0.830},{"p":100,"db":"OpenTSDB","s":"2 day","t":2160,"v":0.778},{"p":100,"db":"OpenTSDB","s":"2 day","t":2520,"v":0.788},{"p":100,"db":"OpenTSDB","s":"2 day","t":2880,"v":0.846},{"p":100,"db":"OpenTSDB","s":"2 day","t":3240,"v":0.836},{"p":100,"db":"OpenTSDB","s":"2 day","t":3600,"v":0.826},{"p":100,"db":"OpenTSDB","s":"2 day","t":3960,"v":0.826},{"p":100,"db":"OpenTSDB","s":"2 day","t":4320,"v":0.788},{"p":100,"db":"OpenTSDB","s":"2 day","t":4680,"v":0.762},{"p":100,"db":"OpenTSDB","s":"2 day","t":5040,"v":0.846},{"p":100,"db":"OpenTSDB","s":"2 day","t":5400,"v":0.810},{"p":100,"db":"OpenTSDB","s":"2 day","t":5760,"v":0.846},{"p":100,"db":"OpenTSDB","s":"2 day","t":6120,"v":0.810},{"p":100,"db":"OpenTSDB","s":"2 day","t":6480,"v":0.788},{"p":100,"db":"OpenTSDB","s":"2 day","t":6840,"v":0.781},{"p":100,"db":"OpenTSDB","s":"2 day","t":7200,"v":0.756},
{"p":100,"db":"OpenTSDB","s":"7 day","t":360,"v":0.119},{"p":100,"db":"OpenTSDB","s":"7 day","t":720,"v":0.225},{"p":100,"db":"OpenTSDB","s":"7 day","t":1080,"v":0.267},{"p":100,"db":"OpenTSDB","s":"7 day","t":1440,"v":0.267},{"p":100,"db":"OpenTSDB","s":"7 day","t":1800,"v":0.267},{"p":100,"db":"OpenTSDB","s":"7 day","t":2160,"v":0.257},{"p":100,"db":"OpenTSDB","s":"7 day","t":2520,"v":0.248},{"p":100,"db":"OpenTSDB","s":"7 day","t":2880,"v":0.280},{"p":100,"db":"OpenTSDB","s":"7 day","t":3240,"v":0.235},{"p":100,"db":"OpenTSDB","s":"7 day","t":3600,"v":0.257},{"p":100,"db":"OpenTSDB","s":"7 day","t":3960,"v":0.289},{"p":100,"db":"OpenTSDB","s":"7 day","t":4320,"v":0.248},{"p":100,"db":"OpenTSDB","s":"7 day","t":4680,"v":0.235},{"p":100,"db":"OpenTSDB","s":"7 day","t":5040,"v":0.280},{"p":100,"db":"OpenTSDB","s":"7 day","t":5400,"v":0.267},{"p":100,"db":"OpenTSDB","s":"7 day","t":5760,"v":0.257},{"p":100,"db":"OpenTSDB","s":"7 day","t":6120,"v":0.312},{"p":100,"db":"OpenTSDB","s":"7 day","t":6480,"v":0.280},{"p":100,"db":"OpenTSDB","s":"7 day","t":6840,"v":0.232},{"p":100,"db":"OpenTSDB","s":"7 day","t":7200,"v":0.235},
{"p":100,"db":"OpenTSDB","s":"30 day","t":360,"v":0.032},{"p":100,"db":"OpenTSDB","s":"30 day","t":720,"v":0.032},{"p":100,"db":"OpenTSDB","s":"30 day","t":1080,"v":0.032},{"p":100,"db":"OpenTSDB","s":"30 day","t":1440,"v":0.016},{"p":100,"db":"OpenTSDB","s":"30 day","t":1800,"v":0.026},{"p":100,"db":"OpenTSDB","s":"30 day","t":2160,"v":0.026},{"p":100,"db":"OpenTSDB","s":"30 day","t":2520,"v":0.042},{"p":100,"db":"OpenTSDB","s":"30 day","t":2880,"v":0.032},{"p":100,"db":"OpenTSDB","s":"30 day","t":3240,"v":0.048},{"p":100,"db":"OpenTSDB","s":"30 day","t":3600,"v":0.042},{"p":100,"db":"OpenTSDB","s":"30 day","t":3960,"v":0.048},{"p":100,"db":"OpenTSDB","s":"30 day","t":4320,"v":0.055},{"p":100,"db":"OpenTSDB","s":"30 day","t":4680,"v":0.048},{"p":100,"db":"OpenTSDB","s":"30 day","t":5040,"v":0.026},{"p":100,"db":"OpenTSDB","s":"30 day","t":5400,"v":0.064},{"p":100,"db":"OpenTSDB","s":"30 day","t":5760,"v":0.042},{"p":100,"db":"OpenTSDB","s":"30 day","t":6120,"v":0.048},{"p":100,"db":"OpenTSDB","s":"30 day","t":6480,"v":0.032},{"p":100,"db":"OpenTSDB","s":"30 day","t":6840,"v":0.026},{"p":100,"db":"OpenTSDB","s":"30 day","t":7200,"v":0.016}
],
"lbl": [
{"p":10,"db":"Elasticsearch","s":"1 day","t":1000,"v":1.65},
{"p":10,"db":"OpenTSDB","s":"1 day","t":1000,"v":1.42},
{"p":10,"db":"Elasticsearch","s":"2 day","t":1000,"v":1.0},
{"p":10,"db":"OpenTSDB","s":"2 day","t":4350,"v":0.70},
{"p":10,"db":"Elasticsearch","s":"7 day","t":1000,"v":0.40},
{"p":10,"db":"OpenTSDB","s":"7 day","t":2800,"v":0.26},
{"p":10,"db":"Elasticsearch","s":"30 day","t":1000,"v":0.10},
{"p":10,"db":"OpenTSDB","s":"30 day","t":1000,"v":0.0},
{"p":50,"db":"ElasticSearch","s":"1 day","t":1000,"v":2.7},
{"p":50,"db":"ElasticSearch","s":"2 day","t":1000,"v":1.9},
{"p":50,"db":"OpenTSDB","s":"1 day","t":1900,"v":1.65},
{"p":50,"db":"OpenTSDB","s":"2 day","t":1000,"v":0.9},
{"p":50,"db":"ElasticSearch","s":"7 day","t":1000,"v":0.6},
{"p":50,"db":"OpenTSDB","s":"7 day","t":1000,"v":0.3},
{"p":50,"db":"ElasticSearch","s":"30 day","t":1000,"v":0.1},
{"p":50,"db":"OpenTSDB","s":"30 day","t":6000,"v":0.1},
{"p":100,"db":"ElasticSearch","s":"1 day","t":1000,"v":4.5},
{"p":100,"db":"ElasticSearch","s":"2 day","t":2000,"v":3.4},
{"p":100,"db":"OpenTSDB","s":"1 day","t":1000,"v":1.7},
{"p":100,"db":"ElasticSearch","s":"7 day","t":2000,"v":1.3},
{"p":100,"db":"OpenTSDB","s":"2 day","t":1000,"v":0.9},
{"p":100,"db":"ElasticSearch","s":"30 day","t":1000,"v":0.5},
{"p":100,"db":"OpenTSDB","s":"7 day","t":6500,"v":0.3},
{"p":100,"db":"OpenTSDB","s":"30 day","t":1000,"v":0.1}
]
},
"spacing": 34,
"bounds": "flush",
"resolve": {"scale": {"color": "independent", "fill": "independent", "x": "independent", "y": "independent"}, "legend": {"color": "independent"}},
"hconcat": [
{
 "width": 345, "height": 520,
 "title": "Througput (10 client)",
 "resolve": {"axis": {"x": "independent", "y": "independent"}},
 "layer": [
  {"data": {"name": "pts"}, "transform": [{"filter": "datum.p == 10"}],
   "mark": {"type": "line", "strokeWidth": 2},
   "encoding": {
    "x": {"field": "t", "type": "quantitative", "scale": {"domain": [0, 8000], "nice": false, "zero": false}, "axis": {"orient": "bottom", "values": [0,1000,2000,3000,4000,5000,6000,7000,8000], "format": "d", "title": "time(s)", "tickSize": -4, "labelPadding": 4, "titlePadding": 8, "labelFlush": false}},
    "y": {"field": "v", "type": "quantitative", "scale": {"domain": [0, 1.8], "nice": false}, "axis": {"orient": "left", "values": [0,0.2,0.4,0.6,0.8,1.0,1.2,1.4,1.6,1.8], "format": ".1f", "title": "Number of queries", "tickSize": -4, "labelPadding": 3, "titlePadding": 6, "labelFlush": false}},
    "color": {"field": "db", "type": "nominal", "scale": {"domain": ["Elasticsearch", "OpenTSDB"], "range": ["#ff0000", "#008000"]},
      "legend": {"title": null, "encode": {"symbols": {"update": {
        "shape": {"signal": "datum.value === 'OpenTSDB' ? 'M-3.15,0L-1.75,-1.4L-0.35,0L-1.75,1.4Z M0.35,0L1.75,-1.4L3.15,0L1.75,1.4Z M-1.75,0L1.75,0' : 'M-2.85,0A1.1,1.1,0,1,0,-0.65,0A1.1,1.1,0,1,0,-2.85,0Z M0.65,0A1.1,1.1,0,1,0,2.85,0A1.1,1.1,0,1,0,0.65,0Z M-1.75,0L1.75,0'"},
        "fill": {"signal": "datum.value === 'OpenTSDB' ? '#008000' : '#ff0000'"},
        "stroke": {"signal": "datum.value === 'OpenTSDB' ? '#008000' : '#ff0000'"},
        "strokeWidth": {"value": 1.5}, "opacity": {"value": 1}, "fillOpacity": {"value": 1}, "strokeOpacity": {"value": 1}}}}}},
    "detail": {"field": "s"}
   }},
  {"data": {"name": "pts"}, "transform": [{"filter": "datum.p == 10 && datum.db != 'OpenTSDB'"}],
   "mark": {"type": "point", "shape": "circle", "size": 85, "filled": true, "fill": "#ff0000", "stroke": "#000", "strokeWidth": 0.5, "opacity": 1},
   "encoding": {
    "x": {"field": "t", "type": "quantitative", "axis": {"orient": "top", "values": [0,1000,2000,3000,4000,5000,6000,7000,8000], "labels": false, "title": null, "tickSize": -4, "domain": false}},
    "y": {"field": "v", "type": "quantitative", "axis": {"orient": "right", "values": [0,0.2,0.4,0.6,0.8,1.0,1.2,1.4,1.6,1.8], "labels": false, "title": null, "tickSize": -4, "domain": false}}
   }},
  {"data": {"name": "pts"}, "transform": [{"filter": "datum.p == 10 && datum.db == 'OpenTSDB'"}],
   "mark": {"type": "point", "shape": "diamond", "size": 155, "filled": true, "fill": "#008000", "stroke": "#000", "strokeWidth": 0.5, "opacity": 1},
   "encoding": {
    "x": {"field": "t", "type": "quantitative", "axis": null},
    "y": {"field": "v", "type": "quantitative", "axis": null}
   }},
  {"data": {"name": "lbl"}, "transform": [{"filter": "datum.p == 10"}],
   "mark": {"type": "text", "align": "left", "baseline": "alphabetic", "fontSize": 16, "clip": true},
   "encoding": {
    "x": {"field": "t", "type": "quantitative", "axis": null},
    "y": {"field": "v", "type": "quantitative", "axis": null},
    "text": {"field": "s"},
    "fill": {"field": "db", "type": "nominal", "scale": {"domain": ["Elasticsearch", "OpenTSDB"], "range": ["#ff0000", "#008000"]}, "legend": null}
   }}
 ]
},
{
 "width": 345, "height": 520,
 "title": "Througput (50 client)",
 "resolve": {"axis": {"x": "independent", "y": "independent"}},
 "layer": [
  {"data": {"name": "pts"}, "transform": [{"filter": "datum.p == 50"}],
   "mark": {"type": "line", "strokeWidth": 2},
   "encoding": {
    "x": {"field": "t", "type": "quantitative", "scale": {"domain": [0, 8000], "nice": false, "zero": false}, "axis": {"orient": "bottom", "values": [0,1000,2000,3000,4000,5000,6000,7000,8000], "format": "d", "title": "time(s)", "tickSize": -4, "labelPadding": 4, "titlePadding": 8, "labelFlush": false}},
    "y": {"field": "v", "type": "quantitative", "scale": {"domain": [0, 3], "nice": false}, "axis": {"orient": "left", "values": [0,0.5,1.0,1.5,2.0,2.5,3.0], "format": ".1f", "title": "Number of queries", "tickSize": -4, "labelPadding": 3, "titlePadding": 6, "labelFlush": false}},
    "color": {"field": "db", "type": "nominal", "scale": {"domain": ["ElasticSearch", "OpenTSDB"], "range": ["#ff0000", "#008000"]},
      "legend": {"title": null, "encode": {"symbols": {"update": {
        "shape": {"signal": "datum.value === 'OpenTSDB' ? 'M-3.15,0L-1.75,-1.4L-0.35,0L-1.75,1.4Z M0.35,0L1.75,-1.4L3.15,0L1.75,1.4Z M-1.75,0L1.75,0' : 'M-2.85,0A1.1,1.1,0,1,0,-0.65,0A1.1,1.1,0,1,0,-2.85,0Z M0.65,0A1.1,1.1,0,1,0,2.85,0A1.1,1.1,0,1,0,0.65,0Z M-1.75,0L1.75,0'"},
        "fill": {"signal": "datum.value === 'OpenTSDB' ? '#008000' : '#ff0000'"},
        "stroke": {"signal": "datum.value === 'OpenTSDB' ? '#008000' : '#ff0000'"},
        "strokeWidth": {"value": 1.5}, "opacity": {"value": 1}, "fillOpacity": {"value": 1}, "strokeOpacity": {"value": 1}}}}}},
    "detail": {"field": "s"}
   }},
  {"data": {"name": "pts"}, "transform": [{"filter": "datum.p == 50 && datum.db != 'OpenTSDB'"}],
   "mark": {"type": "point", "shape": "circle", "size": 85, "filled": true, "fill": "#ff0000", "stroke": "#000", "strokeWidth": 0.5, "opacity": 1},
   "encoding": {
    "x": {"field": "t", "type": "quantitative", "axis": {"orient": "top", "values": [0,1000,2000,3000,4000,5000,6000,7000,8000], "labels": false, "title": null, "tickSize": -4, "domain": false}},
    "y": {"field": "v", "type": "quantitative", "axis": {"orient": "right", "values": [0,0.5,1.0,1.5,2.0,2.5,3.0], "labels": false, "title": null, "tickSize": -4, "domain": false}}
   }},
  {"data": {"name": "pts"}, "transform": [{"filter": "datum.p == 50 && datum.db == 'OpenTSDB'"}],
   "mark": {"type": "point", "shape": "diamond", "size": 155, "filled": true, "fill": "#008000", "stroke": "#000", "strokeWidth": 0.5, "opacity": 1},
   "encoding": {
    "x": {"field": "t", "type": "quantitative", "axis": null},
    "y": {"field": "v", "type": "quantitative", "axis": null}
   }},
  {"data": {"name": "lbl"}, "transform": [{"filter": "datum.p == 50"}],
   "mark": {"type": "text", "align": "left", "baseline": "alphabetic", "fontSize": 16, "clip": true},
   "encoding": {
    "x": {"field": "t", "type": "quantitative", "axis": null},
    "y": {"field": "v", "type": "quantitative", "axis": null},
    "text": {"field": "s"},
    "fill": {"field": "db", "type": "nominal", "scale": {"domain": ["ElasticSearch", "OpenTSDB"], "range": ["#ff0000", "#008000"]}, "legend": null}
   }}
 ]
},
{
 "width": 345, "height": 520,
 "title": "Througput (100 client)",
 "resolve": {"axis": {"x": "independent", "y": "independent"}},
 "layer": [
  {"data": {"name": "pts"}, "transform": [{"filter": "datum.p == 100"}],
   "mark": {"type": "line", "strokeWidth": 2},
   "encoding": {
    "x": {"field": "t", "type": "quantitative", "scale": {"domain": [0, 8000], "nice": false, "zero": false}, "axis": {"orient": "bottom", "values": [0,1000,2000,3000,4000,5000,6000,7000,8000], "format": "d", "title": "time(s)", "tickSize": -4, "labelPadding": 4, "titlePadding": 8, "labelFlush": false}},
    "y": {"field": "v", "type": "quantitative", "scale": {"domain": [0, 5], "nice": false}, "axis": {"orient": "left", "values": [0,1,2,3,4,5], "format": "d", "title": "Number of queries", "tickSize": -4, "labelPadding": 3, "titlePadding": 8, "labelFlush": false}},
    "color": {"field": "db", "type": "nominal", "scale": {"domain": ["ElasticSearch", "OpenTSDB"], "range": ["#ff0000", "#008000"]},
      "legend": {"title": null, "encode": {"symbols": {"update": {
        "shape": {"signal": "datum.value === 'OpenTSDB' ? 'M-3.15,0L-1.75,-1.4L-0.35,0L-1.75,1.4Z M0.35,0L1.75,-1.4L3.15,0L1.75,1.4Z M-1.75,0L1.75,0' : 'M-2.85,0A1.1,1.1,0,1,0,-0.65,0A1.1,1.1,0,1,0,-2.85,0Z M0.65,0A1.1,1.1,0,1,0,2.85,0A1.1,1.1,0,1,0,0.65,0Z M-1.75,0L1.75,0'"},
        "fill": {"signal": "datum.value === 'OpenTSDB' ? '#008000' : '#ff0000'"},
        "stroke": {"signal": "datum.value === 'OpenTSDB' ? '#008000' : '#ff0000'"},
        "strokeWidth": {"value": 1.5}, "opacity": {"value": 1}, "fillOpacity": {"value": 1}, "strokeOpacity": {"value": 1}}}}}},
    "detail": {"field": "s"}
   }},
  {"data": {"name": "pts"}, "transform": [{"filter": "datum.p == 100 && datum.db != 'OpenTSDB'"}],
   "mark": {"type": "point", "shape": "circle", "size": 85, "filled": true, "fill": "#ff0000", "stroke": "#000", "strokeWidth": 0.5, "opacity": 1},
   "encoding": {
    "x": {"field": "t", "type": "quantitative", "axis": {"orient": "top", "values": [0,1000,2000,3000,4000,5000,6000,7000,8000], "labels": false, "title": null, "tickSize": -4, "domain": false}},
    "y": {"field": "v", "type": "quantitative", "axis": {"orient": "right", "values": [0,1,2,3,4,5], "labels": false, "title": null, "tickSize": -4, "domain": false}}
   }},
  {"data": {"name": "pts"}, "transform": [{"filter": "datum.p == 100 && datum.db == 'OpenTSDB'"}],
   "mark": {"type": "point", "shape": "diamond", "size": 155, "filled": true, "fill": "#008000", "stroke": "#000", "strokeWidth": 0.5, "opacity": 1},
   "encoding": {
    "x": {"field": "t", "type": "quantitative", "axis": null},
    "y": {"field": "v", "type": "quantitative", "axis": null}
   }},
  {"data": {"name": "lbl"}, "transform": [{"filter": "datum.p == 100"}],
   "mark": {"type": "text", "align": "left", "baseline": "alphabetic", "fontSize": 16, "clip": true},
   "encoding": {
    "x": {"field": "t", "type": "quantitative", "axis": null},
    "y": {"field": "v", "type": "quantitative", "axis": null},
    "text": {"field": "s"},
    "fill": {"field": "db", "type": "nominal", "scale": {"domain": ["ElasticSearch", "OpenTSDB"], "range": ["#ff0000", "#008000"]}, "legend": null}
   }}
 ]
}
]
}
